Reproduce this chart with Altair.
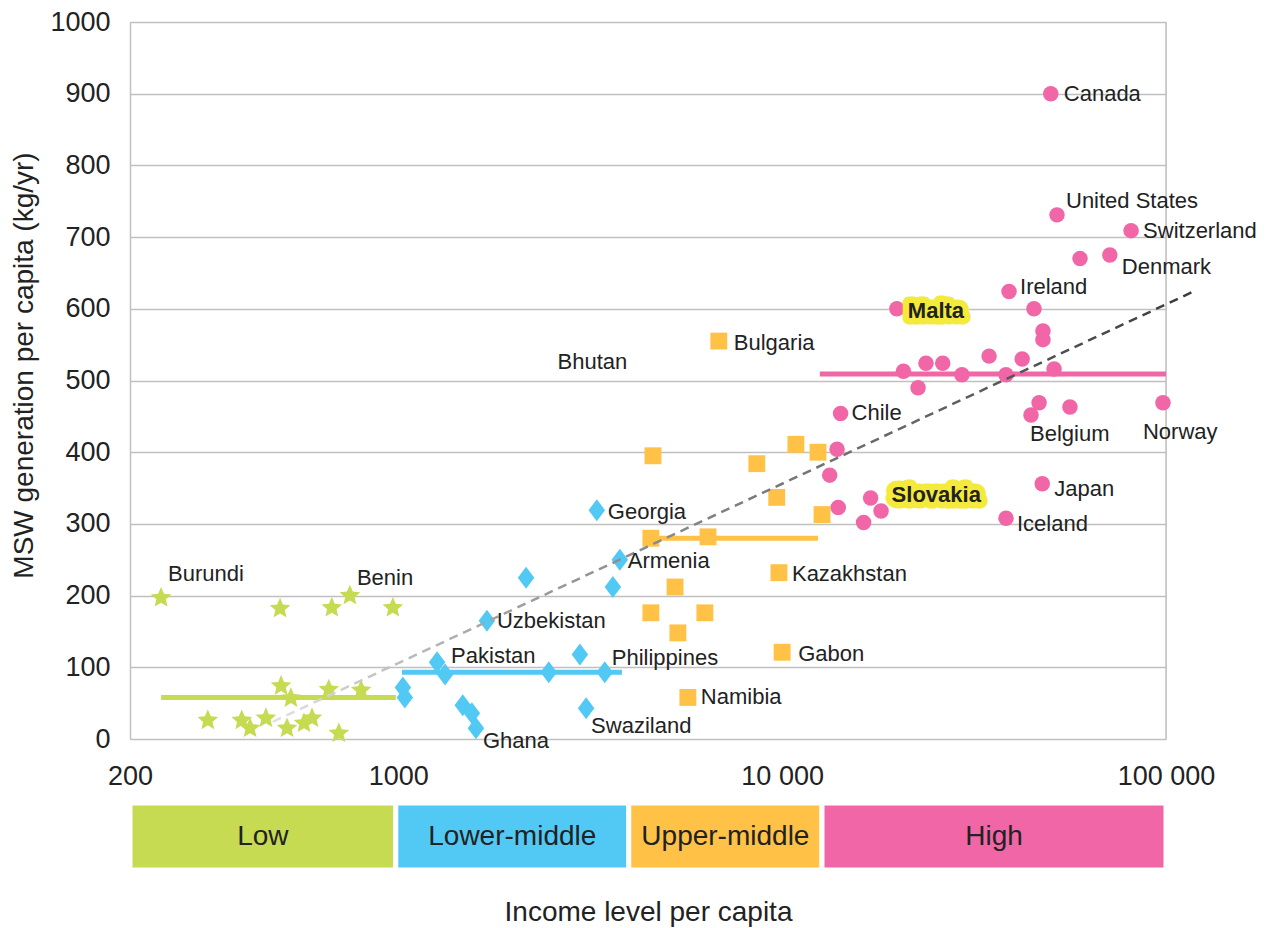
import altair as alt
import pandas as pd

# ---------------- data ----------------
low_x = [241, 492, 671, 748, 968, 495, 525, 659, 800, 319, 391, 411, 452, 513, 568, 596, 700]
low_y = [197, 182, 183, 200, 183, 74, 57, 69, 68, 26, 26, 15, 29, 15, 22, 29, 8]
low_n = ["Burundi", "", "", "Benin", "", "", "", "", "", "", "", "", "", "", "", "", ""]

lm_x = [3290, 3776, 2152, 3623, 1702, 1262, 1324, 2972, 2466, 3450, 1028, 1040, 1472, 1555, 1593, 3085]
lm_y = [319, 250, 225, 212, 165, 107, 90, 118, 93, 93, 72, 58, 47, 36, 15, 43]
lm_n = ["Georgia", "Armenia", "", "", "Uzbekistan", "Pakistan", "", "", "", "Philippines",
        "", "", "", "", "Ghana", "Swaziland"]

um_x = [6839, 4608, 10860, 12400, 8590, 9680, 12700, 4550, 6410, 9810, 5260, 4550, 6290, 5350, 10000, 5680]
um_y = [555, 395, 411, 400, 384, 337, 313, 280, 282, 232, 212, 176, 176, 148, 121, 58]
um_n = ["Bulgaria", "", "", "", "", "", "", "", "", "Kazakhstan", "", "", "", "", "Gabon", "Namibia"]

hi_x = [19900, 39000, 45300, 47800, 47800, 34600, 42200, 51100, 23700, 26200, 20700, 29400,
        38300, 22600, 14200, 46700, 44500, 56200, 13900, 13300, 14000, 17000, 18100, 16300,
        47600, 38300, 50100, 52000, 81100, 71400, 59700, 98200]
hi_y = [600, 624, 600, 569, 557, 534, 530, 516, 524, 524, 513, 508, 508, 490, 454, 469, 452,
        463, 404, 368, 323, 336, 318, 302, 356, 308, 900, 731, 709, 675, 670, 469]
hi_n = ["Malta", "Ireland", "", "", "", "", "", "", "", "", "", "", "", "", "Chile", "",
        "Belgium", "", "", "", "", "Slovakia", "", "", "Japan", "Iceland", "Canada",
        "United States", "Switzerland", "Denmark", "", "Norway"]

# group averages (horizontal bars)
mean_group = ["Low", "Lower-middle", "Upper-middle", "High"]
mean_lo = [241, 1022, 4338, 12540]
mean_hi = [985, 3825, 12400, 100000]
mean_val = [58, 93, 280, 509]

# income bands
band_names = ["Low", "Lower-middle", "Upper-middle", "High"]
band_lo = [200, 985, 3985, 12700]
band_hi = [985, 3985, 12700, 100000]

# trend line
trend_x = [471, 116700]
trend_y = [24, 623]

# label-only text
extra_label = ["Bhutan"]
extra_x = [2600]
extra_y = [526]

colors = {"Low": "#c6da52", "Lower-middle": "#52c9f5", "Upper-middle": "#ffc247", "High": "#f066a6"}

# ---------------- tables ----------------
rows = []
for g, xs, ys, ns in [("Low", low_x, low_y, low_n), ("Lower-middle", lm_x, lm_y, lm_n),
                      ("Upper-middle", um_x, um_y, um_n), ("High", hi_x, hi_y, hi_n)]:
    for x, y, n in zip(xs, ys, ns):
        rows.append({"group": g, "income": x, "msw": y, "country": n})
df = pd.DataFrame(rows)

means = pd.DataFrame({"group": mean_group, "income": mean_lo, "income2": mean_hi, "msw": mean_val})
bands = pd.DataFrame({"group": band_names, "income": band_lo, "income2": band_hi})
bands["mid"] = (bands["income"] * bands["income2"]) ** 0.5
trend = pd.DataFrame({"income": trend_x, "msw": trend_y})
extra = pd.DataFrame({"country": extra_label, "income": extra_x, "msw": extra_y})
border = pd.DataFrame({"income": [100000]})

FONT = "Liberation Sans"
TXT = "#222222"
GRID = "#c0c0c0"
H = 717

x_scale = alt.Scale(type="log", domain=[200, 100000], nice=False)
y_scale = alt.Scale(domain=[0, 1000], nice=False)

x_axis = alt.Axis(values=[200, 1000, 10000, 100000],
                  labelExpr="datum.value == 10000 ? '10 000' : datum.value == 100000 ? '100 000' : format(datum.value, 'd')",
                  grid=False, ticks=False, domain=False, labelFlush=False, labelPadding=24,
                  labelFontSize=27, labelColor=TXT, labelFont=FONT,
                  title="Income level per capita", titleFontSize=28, titleFontWeight="normal",
                  titleColor=TXT, titleFont=FONT, titleX=518, titleY=173, titleBaseline="middle")
y_axis = alt.Axis(values=list(range(0, 1001, 100)), format="d", grid=True, gridColor=GRID, gridWidth=1.5,
                  ticks=False, domainColor=GRID, domainWidth=1.5, labelPadding=20,
                  labelFontSize=27, labelColor=TXT, labelFont=FONT,
                  title="MSW generation per capita (kg/yr)", titleFontSize=28,
                  titleFontWeight="normal", titleColor=TXT, titleFont=FONT,
                  titleX=-106, titleY=343, titleBaseline="middle", titleAngle=-90, titleAlign="center")


def X(field):
    return alt.X(f"{field}:Q", scale=x_scale, axis=x_axis)


def Y(field):
    return alt.Y(f"{field}:Q", scale=y_scale, axis=y_axis)


layers = []

# right border
layers.append(alt.Chart(border).mark_rule(color=GRID, strokeWidth=1.5).encode(
    x=X("income"), y=alt.value(0), y2=alt.value(H)))

# income bands
layers.append(alt.Chart(bands).mark_rect(stroke="white", strokeWidth=5).encode(
    x=X("income"), x2="income2:Q", y=alt.value(781), y2=alt.value(848),
    color=alt.Color("group:N", scale=alt.Scale(domain=list(colors), range=list(colors.values())), legend=None)))
layers.append(alt.Chart(bands).mark_text(fontSize=28, font=FONT, color=TXT, baseline="middle").encode(
    x=X("mid"), y=alt.value(815), text="group:N"))

# group mean bars
for g in mean_group:
    layers.append(alt.Chart(means).transform_filter(alt.datum.group == g)
                  .mark_rule(color=colors[g], strokeWidth=5).encode(
                      x=X("income"), x2="income2:Q", y=Y("msw")))

star = "M0,-1L0.27,-0.37L0.951,-0.309L0.435,0.141L0.588,0.809L0,0.458L-0.588,0.809L-0.435,0.141L-0.951,-0.309L-0.27,-0.37Z"
diamond = "M0,-1L0.75,0L0,1L-0.75,0Z"
shapes = {"Low": (star, 470), "Lower-middle": (diamond, 484), "Upper-middle": ("square", 285), "High": ("circle", 240)}
for g, (shp, sz) in shapes.items():
    layers.append(alt.Chart(df).transform_filter(alt.datum.group == g)
                  .mark_point(shape=shp, size=sz, filled=True, opacity=1, strokeWidth=0, color=colors[g])
                  .encode(x=X("income"), y=Y("msw")))

# trend line
grad = alt.LinearGradient(gradient="linear", x1=0, x2=1, y1=0, y2=0,
                          stops=[alt.GradientStop(color="#e2e2e2", offset=0),
                                 alt.GradientStop(color="#a0a0a0", offset=0.25),
                                 alt.GradientStop(color="#3c3c3c", offset=1)])
layers.append(alt.Chart(trend).mark_line(stroke=grad, strokeWidth=2.5, strokeDash=[9, 6]).encode(
    x=X("income"), y=Y("msw")))

# labels
offsets = {
    "Burundi": (7, -24), "Benin": (7, -18), "Uzbekistan": (10, 0), "Pakistan": (14, -6),
    "Ghana": (7, 13), "Georgia": (11, 2), "Armenia": (8, 1), "Philippines": (7, -14),
    "Swaziland": (5, 18), "Bulgaria": (15, 2), "Kazakhstan": (13, 1), "Gabon": (16, 2),
    "Namibia": (13, 0), "Chile": (11, 0), "Ireland": (11, -5), "Canada": (13, 0),
    "United States": (9, -14), "Switzerland": (12, 0), "Denmark": (12, 12), "Belgium": (-1, 19),
    "Norway": (-20, 29), "Japan": (12, 5), "Iceland": (11, 6),
}
for name, (dx, dy) in offsets.items():
    layers.append(alt.Chart(df).transform_filter(alt.datum.country == name)
                  .mark_text(align="left", baseline="middle", dx=dx, dy=dy, fontSize=22, font=FONT, color=TXT)
                  .encode(x=X("income"), y=Y("msw"), text="country:N"))

highlight = {"Malta": (11, 2), "Slovakia": (21, -3)}
for name, (dx, dy) in highlight.items():
    layers.append(alt.Chart(df).transform_filter(alt.datum.country == name)
                  .mark_text(align="left", baseline="middle", dx=dx, dy=dy, fontSize=22, font=FONT,
                             fontWeight="bold", color="#f3ea3c", stroke="#f3ea3c", strokeWidth=13,
                             strokeJoin="round")
                  .encode(x=X("income"), y=Y("msw"), text="country:N"))
    layers.append(alt.Chart(df).transform_filter(alt.datum.country == name)
                  .mark_text(align="left", baseline="middle", dx=dx, dy=dy, fontSize=22, font=FONT,
                             fontWeight="bold", color=TXT)
                  .encode(x=X("income"), y=Y("msw"), text="country:N"))

layers.append(alt.Chart(extra).mark_text(align="left", baseline="middle", fontSize=22, font=FONT, color=TXT)
              .encode(x=X("income"), y=Y("msw"), text="country:N"))

chart = alt.layer(*layers).properties(
    width=1036, height=H,
    autosize=alt.AutoSizeParams(type="none"),
    padding={"left": 122, "top": 14, "right": 93, "bottom": 196},
).configure_view(stroke=None).configure(font=FONT)

chart.save("out.html", embed_options={"renderer": "svg", "actions": False})
